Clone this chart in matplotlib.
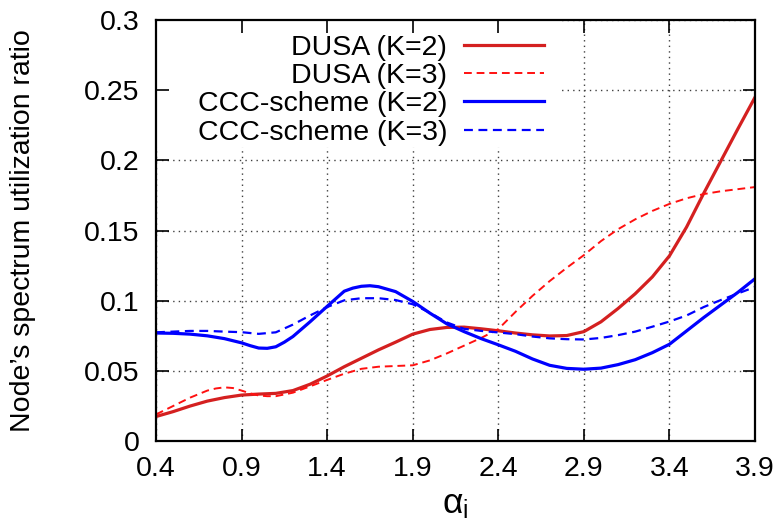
import matplotlib.pyplot as plt
from matplotlib.patches import Rectangle

plt.rcParams['font.family'] = ['Liberation Sans', 'DejaVu Sans']
plt.rcParams['mathtext.fontset'] = 'dejavusans'
plt.rcParams['mathtext.default'] = 'regular'

# valores
x_dusa_k2 = [0.4, 0.5, 0.6, 0.7, 0.8, 0.9, 1.0, 1.1, 1.2, 1.3, 1.4, 1.5, 1.6,
             1.7, 1.8, 1.9, 2.0, 2.1, 2.2, 2.3, 2.4, 2.5, 2.6, 2.7, 2.8, 2.9,
             3.0, 3.1, 3.2, 3.3, 3.4, 3.5, 3.6, 3.7, 3.8, 3.9]
dusa_k2 = [0.0175, 0.021, 0.025, 0.0285, 0.031, 0.0328, 0.0335, 0.034, 0.036,
           0.0405, 0.0464, 0.053, 0.059, 0.065, 0.0705, 0.0762, 0.0795, 0.081,
           0.0812, 0.080, 0.0786, 0.077, 0.0757, 0.0749, 0.0752, 0.078, 0.085,
           0.0945, 0.105, 0.117, 0.132, 0.1525, 0.1765, 0.1995, 0.2225, 0.245]

x_dusa_k3 = [0.4, 0.5, 0.6, 0.7, 0.75, 0.8, 0.85, 0.9, 0.95, 1.0, 1.05, 1.1,
             1.2, 1.3, 1.4, 1.5, 1.6, 1.7, 1.8, 1.9, 2.0, 2.1, 2.2, 2.3, 2.4,
             2.5, 2.6, 2.7, 2.8, 2.9, 3.0, 3.1, 3.2, 3.3, 3.4, 3.5, 3.6, 3.7,
             3.8, 3.9]
dusa_k3 = [0.019, 0.025, 0.031, 0.036, 0.0375, 0.0383, 0.0378, 0.036, 0.034,
           0.0325, 0.032, 0.032, 0.0345, 0.039, 0.0436, 0.048, 0.0515, 0.053,
           0.0535, 0.054, 0.0575, 0.0625, 0.068, 0.0735, 0.0798, 0.092, 0.1035,
           0.114, 0.1235, 0.1325, 0.1425, 0.151, 0.158, 0.164, 0.169, 0.173,
           0.176, 0.178, 0.1795, 0.181]

x_ccc_k2 = [0.4, 0.5, 0.6, 0.7, 0.8, 0.9, 0.95, 1.0, 1.05, 1.1, 1.15, 1.2,
            1.3, 1.4, 1.5, 1.55, 1.6, 1.65, 1.7, 1.8, 1.9, 2.0, 2.1, 2.2, 2.3,
            2.4, 2.5, 2.6, 2.7, 2.8, 2.9, 3.0, 3.1, 3.2, 3.3, 3.4, 3.5, 3.6,
            3.7, 3.8, 3.9]
ccc_k2 = [0.077, 0.0768, 0.0762, 0.075, 0.073, 0.070, 0.068, 0.0663, 0.0661,
          0.0672, 0.0705, 0.0745, 0.085, 0.096, 0.1068, 0.109, 0.1103, 0.1107,
          0.110, 0.1065, 0.0995, 0.0912, 0.0835, 0.078, 0.073, 0.0686, 0.064,
          0.0585, 0.054, 0.0518, 0.0512, 0.052, 0.0545, 0.058, 0.063, 0.069,
          0.0785, 0.088, 0.097, 0.106, 0.1157]

x_ccc_k3 = [0.4, 0.5, 0.6, 0.7, 0.8, 0.9, 1.0, 1.1, 1.2, 1.3, 1.4, 1.5, 1.6,
            1.7, 1.8, 1.9, 2.0, 2.1, 2.2, 2.3, 2.4, 2.5, 2.6, 2.7, 2.8, 2.9,
            3.0, 3.1, 3.2, 3.3, 3.4, 3.5, 3.6, 3.7, 3.8, 3.9]
ccc_k3 = [0.0775, 0.078, 0.0785, 0.0785, 0.078, 0.0776, 0.0764, 0.0775, 0.083,
          0.0895, 0.0955, 0.1003, 0.1018, 0.1018, 0.1005, 0.0975, 0.0915,
          0.0845, 0.080, 0.0785, 0.0774, 0.0762, 0.0745, 0.0732, 0.0726, 0.0724,
          0.0735, 0.0755, 0.078, 0.0815, 0.0852, 0.0895, 0.0955, 0.1005, 0.1052,
          0.1098]

xticks = [0.4, 0.9, 1.4, 1.9, 2.4, 2.9, 3.4, 3.9]
yticks = [0, 0.05, 0.1, 0.15, 0.2, 0.25, 0.3]
ytick_labels = ['0', '0.05', '0.1', '0.15', '0.2', '0.25', '0.3']

fs = 20.5

fig, ax = plt.subplots(figsize=(7.8, 5.27), dpi=100)
fig.subplots_adjust(left=0.2, right=0.968, top=0.962, bottom=0.163)

# grade pontilhada desenhada à mão (fica por baixo da caixa da legenda)
ax.vlines(xticks, 0, 0.3, colors='0.25', linestyles=(0, (1, 3)), linewidth=1, zorder=1)
ax.hlines(yticks, 0.4, 3.9, colors='0.25', linestyles=(0, (1, 3)), linewidth=1, zorder=1)

# caixa branca da legenda
ax.add_patch(Rectangle((0, 0.698), 0.678, 0.302, transform=ax.transAxes,
                       facecolor='white', edgecolor='none', zorder=1.5))

ax.plot(x_dusa_k2, dusa_k2, color='#d42020', lw=2.3, label='DUSA (K=2)', zorder=3)
ax.plot(x_dusa_k3, dusa_k3, color='#ff1010', lw=1.4, ls=(0, (4, 2.5)), label='DUSA (K=3)', zorder=3)
ax.plot(x_ccc_k2, ccc_k2, color='#0000ff', lw=2.3, label='CCC-scheme (K=2)', zorder=3)
ax.plot(x_ccc_k3, ccc_k3, color='#0000ff', lw=1.6, ls=(0, (4, 2.5)), label='CCC-scheme (K=3)', zorder=3)

ax.set_xlim(0.4, 3.9)
ax.set_ylim(0, 0.3)
ax.set_xticks(xticks)
ax.set_xticklabels([str(t) for t in xticks])
ax.set_yticks(yticks)
ax.set_yticklabels(ytick_labels)

ax.tick_params(axis='both', direction='in', length=9, width=1.2, labelsize=fs,
               top=True, right=True)
ax.tick_params(axis='x', pad=11)
ax.tick_params(axis='y', pad=12)
ax.xaxis.set_zorder(6)
ax.yaxis.set_zorder(6)
for s in ax.spines.values():
    s.set_linewidth(1.6)
    s.set_zorder(6)

ax.set_xlabel(r'$\alpha_{i}$', fontsize=fs + 5, labelpad=4)
ax.set_ylabel('Node\u2019s spectrum utilization ratio', fontsize=fs, labelpad=34)

ax.legend(loc='upper right', bbox_to_anchor=(0.655, 0.975), frameon=False,
          markerfirst=False, fontsize=fs, handlelength=2.8, handletextpad=0.6,
          labelspacing=0.08, borderaxespad=0, borderpad=0.15)

plt.savefig('out.png', dpi=100)
